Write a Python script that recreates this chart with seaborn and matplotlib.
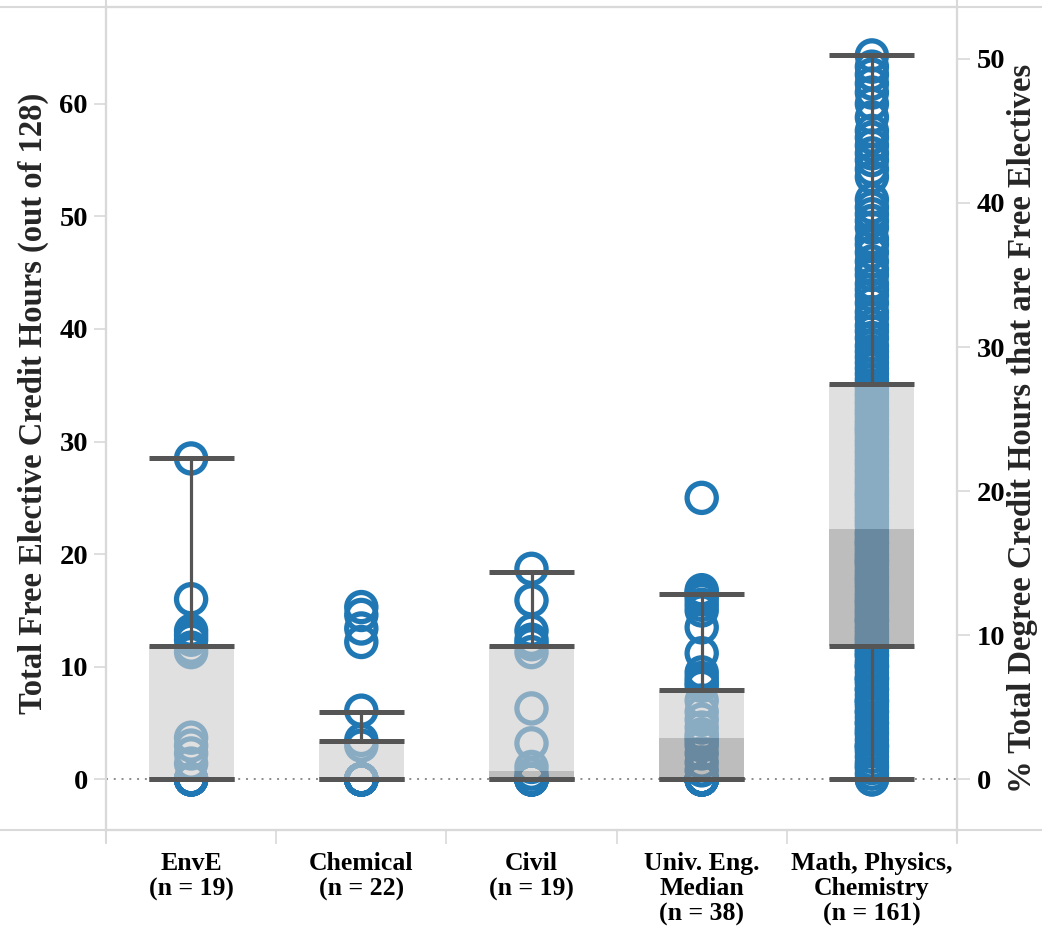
import matplotlib
matplotlib.use("Agg")
import matplotlib.pyplot as plt
import numpy as np
import pandas as pd
import seaborn as sns
from matplotlib.lines import Line2D

# Programme categories (tick labels)
groups = [
    "EnvE\n(n = 19)",
    "Chemical\n(n = 22)",
    "Civil\n(n = 19)",
    "Univ. Eng.\nMedian\n(n = 38)",
    "Math, Physics,\nChemistry\n(n = 161)",
]

# Free elective credit hours per programme
envE = [28.5, 16.0, 13.2, 12.8, 12.4, 11.7, 11.3, 3.7, 3.0, 2.3, 1.4,
        0, 0, 0, 0, 0, 0, 0, 0]
chemical = [15.3, 14.6, 13.4, 12.2, 6.1, 3.5, 3.0,
            0, 0, 0, 0, 0, 0, 0, 0, 0, 0, 0, 0, 0, 0, 0]
civil = [18.7, 15.9, 13.2, 12.4, 12.0, 11.3, 6.3, 3.2, 1.1, 0.5,
         0, 0, 0, 0, 0, 0, 0, 0, 0]
univ_eng = [25.0, 16.8, 16.6, 16.4, 16.0, 15.5, 15.0, 13.5, 11.2, 9.5, 9.0,
            8.6, 8.3, 7.0, 6.0, 5.3, 4.6, 4.0, 3.7, 3.4, 3.0, 2.3, 1.5, 0.8,
            0, 0, 0, 0, 0, 0, 0, 0, 0, 0, 0, 0, 0, 0]
math_sci = [
    0, 0, 0.5, 1, 1.5, 2, 2.5, 3, 3, 3.5, 4, 4.5, 5, 5, 5.5, 6, 6, 6.5, 7, 7,
    7.5, 8, 8, 8.5, 9, 9, 9.5, 10, 10, 10.5, 11, 11, 11.5, 1.2, 2.8, 4.2, 6.8,
    8.8, 10.2, 11.3,
    12, 12.3, 12.7, 13, 13.3, 13.6, 14, 14.2, 14.5, 14.8, 15, 15.3, 15.6, 16,
    16.3, 16.6, 17, 17.3, 17.6, 18, 18.3, 18.6, 19, 19.2, 19.5, 19.8, 20, 20.3,
    20.6, 21, 21.2, 21.5, 21.8, 22, 12.5, 14.1, 15.8, 17.8, 19.4, 20.9,
    22.5, 22.8, 23.1, 23.4, 23.8, 24.1, 24.5, 24.8, 25.1, 25.5, 25.8, 26.2,
    26.5, 26.8, 27.2, 27.5, 27.9, 28.2, 28.5, 28.9, 29.2, 29.6, 29.9, 30.2,
    30.6, 30.9, 31.3, 31.6, 31.9, 32.3, 32.6, 32.9, 33.3, 33.6, 34, 34.3,
    34.7, 35, 25.3, 31.1,
    35.5, 36, 36.5, 37, 37.5, 38, 38.5, 39.2, 39.8, 40.3, 41, 41.5, 42.3, 43,
    43.5, 44, 44.8, 46, 46.8, 47.5, 48, 49, 49.6, 50.2, 50.8, 51.5, 53.5, 54.2,
    55, 55.6, 56.3, 57, 57.6, 58.8, 60, 61, 61.8, 62.6, 63.3, 64.3, 45.3,
]

# Box-plot summary per programme
q1 = [0, 0, 0, 0, 11.8]
median = [0, 0, 0.7, 3.7, 22.2]
q3 = [11.8, 3.44, 11.8, 7.9, 35.1]
whisker_lo = [0, 0, 0, 0, 0]
whisker_hi = [28.5, 6.0, 18.4, 16.5, 64.3]

total_hours = 128

df = pd.DataFrame({
    "group": np.repeat(groups, [len(envE), len(chemical), len(civil),
                                len(univ_eng), len(math_sci)]),
    "hours": envE + chemical + civil + univ_eng + math_sci,
})

sns.set_theme(style="white")
plt.rcParams["font.family"] = ["Liberation Serif", "DejaVu Serif"]
plt.rcParams["font.weight"] = "bold"

W, H = 1042, 936
fig = plt.figure(figsize=(W / 100, H / 100), dpi=100)
ax = fig.add_axes([106 / W, 1 - 830 / H, (957 - 106) / W, (830 - 7) / H])

blue = "#1f77b4"
line_gray = "#d9d9d9"
box_dark = "#555555"

ylo, yhi = -4.5, 68.6

# zero reference line
ax.axhline(0, color="#8c8c8c", lw=1.4, ls=(0, (1, 3)), zorder=1)

# hollow circles, one per programme value
sns.stripplot(data=df, x="group", y="hours", order=groups, jitter=False,
              size=21, color=blue, edgecolor=blue, linewidth=3.8,
              ax=ax, zorder=2)
for coll in ax.collections:
    coll.set_facecolor("none")
    coll.set_edgecolor(blue)
    coll.set_linewidth(3.8)

pos = np.arange(len(groups))
q1a, meda, q3a = np.array(q1), np.array(median), np.array(q3)
wl, wh = np.array(whisker_lo), np.array(whisker_hi)
bw = 0.5

# translucent box halves: upper (median..Q3) lighter, lower (Q1..median) darker
ax.bar(pos, q3a - meda, bottom=meda, width=bw, color="#cdcdcd", alpha=0.62,
       linewidth=0, zorder=3)
ax.bar(pos, meda - q1a, bottom=q1a, width=bw, color="#959595", alpha=0.625,
       linewidth=0, zorder=3)

# whiskers
ax.vlines(pos, q3a, wh, color=box_dark, lw=2.3, zorder=4)
ax.vlines(pos, wl, q1a, color=box_dark, lw=2.3, zorder=4)
# caps at whisker ends and box edges
for vals in (wl, wh, q1a, q3a):
    ax.hlines(vals, pos - bw / 2, pos + bw / 2, color=box_dark, lw=3.6,
              zorder=5)

ax.set_xlim(-0.5, len(groups) - 0.5)
ax.set_ylim(ylo, yhi)
ax.set_xlabel("")
ax.set_ylabel("")

# y axis (hours)
ax.set_yticks(np.arange(0, 61, 10))
ax.tick_params(axis="y", which="major", length=9, width=1.2, color=line_gray,
               pad=4, labelsize=20.5, labelcolor="black", left=True)
# x axis: labels at category centres, tick marks at boundaries
ax.set_xticks(pos)
ax.set_xticks(np.arange(-0.5, len(groups)), minor=True)
ax.tick_params(axis="x", which="major", length=0, pad=16, labelsize=18.5,
               labelcolor="black")
ax.tick_params(axis="x", which="minor", length=10, width=1.2, color=line_gray,
               bottom=True)
for t in ax.get_xticklabels():
    t.set_fontweight("bold")
    t.set_linespacing(1.12)
for t in ax.get_yticklabels():
    t.set_fontweight("bold")

for s in ax.spines.values():
    s.set_color(line_gray)
    s.set_linewidth(1.5)

# right axis: share of total degree hours
ax2 = ax.twinx()
ax2.set_ylim(ylo * 100 / total_hours, yhi * 100 / total_hours)
ax2.set_yticks(np.arange(0, 51, 10))
ax2.tick_params(axis="y", length=9, width=1.2, color=line_gray, pad=5,
                labelsize=20.5, labelcolor="black", right=True)
for t in ax2.get_yticklabels():
    t.set_fontweight("bold")
for s in ax2.spines.values():
    s.set_color(line_gray)
    s.set_linewidth(1.5)

# pane borders extending across the figure
for yy in (7, 830):
    fig.add_artist(Line2D([0, 1], [1 - yy / H] * 2, transform=fig.transFigure,
                          color=line_gray, lw=1.5))
for xx in (106, 957):
    fig.add_artist(Line2D([xx / W] * 2, [1, 1 - 842 / H],
                          transform=fig.transFigure, color=line_gray, lw=1.5))

fig.text(33 / W, 1 - 403 / H, "Total Free Elective Credit Hours (out of 128)",
         rotation=90, ha="center", va="center", fontsize=23.5,
         fontweight="bold")
fig.text(1023 / W, 1 - 428 / H,
         "% Total Degree Credit Hours that are Free Electives",
         rotation=90, ha="center", va="center", fontsize=23.5,
         fontweight="bold")

fig.savefig("out.png", dpi=100, facecolor="white")
